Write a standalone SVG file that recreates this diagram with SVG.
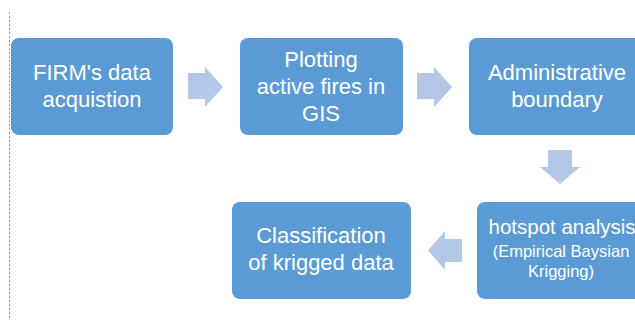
<svg xmlns="http://www.w3.org/2000/svg" width="635" height="320" viewBox="0 0 635 320">
<style>
.box{fill:#5B9BD5;}
.t{fill:#fff;font-family:"Liberation Sans",Arial,sans-serif;font-size:22px;text-anchor:middle;}
.s{font-size:16.5px;}
.arr{fill:#B4C7E7;}
</style>
<rect width="635" height="320" fill="#fff"/>
<line x1="9.5" y1="12" x2="9.5" y2="320" stroke="#999" stroke-width="1" stroke-dasharray="2,2"/>
<g id="n1"><rect class="box" x="11" y="38" width="162" height="97" rx="8"/>
<text class="t" x="92" y="80">FIRM's data</text><text class="t" x="92" y="107">acquistion</text></g>
<g id="n2"><rect class="box" x="240" y="38" width="163" height="97" rx="8"/>
<text class="t" x="321" y="67">Plotting</text><text class="t" x="321" y="94">active fires in</text><text class="t" x="321" y="121">GIS</text></g>
<g id="n3"><rect class="box" x="469" y="38" width="180" height="97" rx="8"/>
<text class="t" x="557" y="80">Administrative</text><text class="t" x="557" y="107">boundary</text></g>
<g id="n4"><rect class="box" x="477" y="202" width="180" height="97" rx="8"/>
<text class="t" x="562" y="234" style="font-size:20.5px">hotspot analysis</text><text class="t s" x="561" y="257">(Empirical Baysian</text><text class="t s" x="561" y="277">Krigging)</text></g>
<g id="n5"><rect class="box" x="232" y="202" width="179" height="97" rx="8"/>
<text class="t" x="321" y="243">Classification</text><text class="t" x="321" y="270">of krigged data</text></g>
<g id="connectors">
<polygon class="arr" points="188,73 205,73 205,67 223,87 205,107 205,99 188,99"/>
<polygon class="arr" points="417,73 434,73 434,67 452,87 434,107 434,99 417,99"/>
<polygon class="arr" points="548,150 572,150 572,167 580,167 560,184 540,167 548,167"/>
<polygon class="arr" points="462,239 445,239 445,231 428,250.5 445,270 445,262 462,262"/>
</g>
</svg>
